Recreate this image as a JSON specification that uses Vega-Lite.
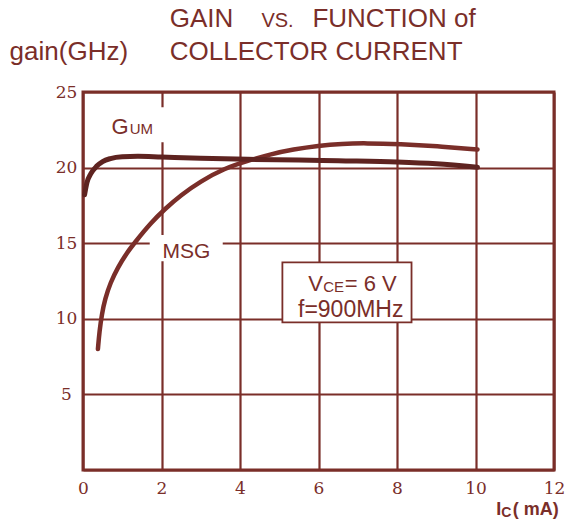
{
  "$schema": "https://vega.github.io/schema/vega-lite/v6.json",
  "width": 471,
  "height": 378,
  "autosize": {"type": "none"},
  "padding": {"left": 83, "top": 92, "right": 15, "bottom": 56},
  "background": "white",
  "config": {
    "view": {"stroke": "#7a2e29", "strokeWidth": 3},
    "axis": {
      "domain": false, "ticks": false, "gridColor": "#7a2e29", "gridWidth": 2.2, "gridOpacity": 1,
      "labelFont": "DejaVu Serif", "labelFontSize": 17, "labelColor": "#7a2e29", "title": null, "labelFlush": false
    },
    "text": {"font": "Liberation Sans", "color": "#7a2e29"}
  },
  "datasets": {
    "curves": [
      {"series": "MSG", "ic": 0.38, "gain": 8.0},
      {"series": "MSG", "ic": 0.42, "gain": 9.2},
      {"series": "MSG", "ic": 0.48, "gain": 10.3},
      {"series": "MSG", "ic": 0.56, "gain": 11.3},
      {"series": "MSG", "ic": 0.7, "gain": 12.4},
      {"series": "MSG", "ic": 0.89, "gain": 13.4},
      {"series": "MSG", "ic": 1.1, "gain": 14.3},
      {"series": "MSG", "ic": 1.32, "gain": 15.05},
      {"series": "MSG", "ic": 1.74, "gain": 16.37},
      {"series": "MSG", "ic": 2.08, "gain": 17.25},
      {"series": "MSG", "ic": 2.5, "gain": 18.2},
      {"series": "MSG", "ic": 3.0, "gain": 19.1},
      {"series": "MSG", "ic": 3.6, "gain": 19.95},
      {"series": "MSG", "ic": 4.2, "gain": 20.45},
      {"series": "MSG", "ic": 4.8, "gain": 20.9},
      {"series": "MSG", "ic": 5.35, "gain": 21.2},
      {"series": "MSG", "ic": 6.0, "gain": 21.45},
      {"series": "MSG", "ic": 6.6, "gain": 21.58},
      {"series": "MSG", "ic": 7.2, "gain": 21.62},
      {"series": "MSG", "ic": 8.1, "gain": 21.55},
      {"series": "MSG", "ic": 9.0, "gain": 21.42},
      {"series": "MSG", "ic": 10.05, "gain": 21.2},
      {"series": "GUM", "ic": 0.04, "gain": 18.2},
      {"series": "GUM", "ic": 0.1, "gain": 19.0},
      {"series": "GUM", "ic": 0.2, "gain": 19.6},
      {"series": "GUM", "ic": 0.35, "gain": 20.1},
      {"series": "GUM", "ic": 0.5, "gain": 20.4},
      {"series": "GUM", "ic": 0.7, "gain": 20.6},
      {"series": "GUM", "ic": 1.0, "gain": 20.72},
      {"series": "GUM", "ic": 1.4, "gain": 20.75},
      {"series": "GUM", "ic": 2.0, "gain": 20.7},
      {"series": "GUM", "ic": 3.0, "gain": 20.62},
      {"series": "GUM", "ic": 4.2, "gain": 20.55},
      {"series": "GUM", "ic": 5.5, "gain": 20.5},
      {"series": "GUM", "ic": 6.5, "gain": 20.45},
      {"series": "GUM", "ic": 8.0, "gain": 20.37},
      {"series": "GUM", "ic": 9.0, "gain": 20.25},
      {"series": "GUM", "ic": 10.05, "gain": 20.02}
    ]
  },
  "layer": [
    {
      "data": {"values": [
        {"x1": 0.25, "x2": 2.16, "y1": 21.68, "y2": 23.99},
        {"x1": 1.7, "x2": 3.56, "y1": 13.8, "y2": 15.55}
      ]},
      "mark": {"type": "rect", "fill": "white", "stroke": null},
      "encoding": {
        "x": {"field": "x1", "type": "quantitative", "scale": {"domain": [0, 12], "nice": false, "zero": false},
          "axis": {"values": [0, 2, 4, 6, 8, 10, 12], "grid": true, "labelPadding": 10}},
        "x2": {"field": "x2"},
        "y": {"field": "y1", "type": "quantitative", "scale": {"domain": [0, 25], "nice": false, "zero": false},
          "axis": {"values": [0, 2.5, 5, 7.5, 10, 12.5, 15, 17.5, 20, 22.5, 25], "grid": true,
            "labelExpr": "datum.value % 5 === 0 && datum.value > 0 ? datum.label : ''",
            "labelAlign": "center", "labelPadding": 17}},
        "y2": {"field": "y2"}
      }
    },
    {
      "data": {"values": [{"x1": 5.08, "x2": 8.37, "y1": 9.76, "y2": 13.73}]},
      "mark": {"type": "rect", "fill": "white", "stroke": "#7a2e29", "strokeWidth": 1.8},
      "encoding": {
        "x": {"field": "x1", "type": "quantitative"},
        "x2": {"field": "x2"},
        "y": {"field": "y1", "type": "quantitative"},
        "y2": {"field": "y2"}
      }
    },
    {
      "data": {"name": "curves"},
      "transform": [{"filter": "datum.series === 'MSG'"}],
      "mark": {"type": "line", "interpolate": "basis", "color": "#7a2e29", "strokeWidth": 4.5, "strokeCap": "round"},
      "encoding": {
        "x": {"field": "ic", "type": "quantitative"},
        "y": {"field": "gain", "type": "quantitative"}
      }
    },
    {
      "data": {"name": "curves"},
      "transform": [{"filter": "datum.series === 'GUM'"}],
      "mark": {"type": "line", "interpolate": "monotone", "color": "#5e2320", "strokeWidth": 5, "strokeCap": "round"},
      "encoding": {
        "x": {"field": "ic", "type": "quantitative"},
        "y": {"field": "gain", "type": "quantitative"}
      }
    },
    {
      "data": {"values": [{"x": 1.164, "y": 22.25, "t": "G"}]},
      "mark": {"type": "text", "fontSize": 22, "align": "right", "baseline": "alphabetic"},
      "encoding": {"x": {"field": "x", "type": "quantitative"}, "y": {"field": "y", "type": "quantitative"}, "text": {"field": "t"}}
    },
    {
      "data": {"values": [{"x": 1.19, "y": 22.25, "t": "UM"}]},
      "mark": {"type": "text", "fontSize": 15, "align": "left", "baseline": "alphabetic"},
      "encoding": {"x": {"field": "x", "type": "quantitative"}, "y": {"field": "y", "type": "quantitative"}, "text": {"field": "t"}}
    },
    {
      "data": {"values": [{"x": 2.634, "y": 13.99, "t": "MSG"}]},
      "mark": {"type": "text", "fontSize": 21, "align": "center", "baseline": "alphabetic"},
      "encoding": {"x": {"field": "x", "type": "quantitative"}, "y": {"field": "y", "type": "quantitative"}, "text": {"field": "t"}}
    },
    {
      "data": {"values": [{"x": 6.115, "y": 11.85, "t": "V"}]},
      "mark": {"type": "text", "fontSize": 22, "align": "right", "baseline": "alphabetic"},
      "encoding": {"x": {"field": "x", "type": "quantitative"}, "y": {"field": "y", "type": "quantitative"}, "text": {"field": "t"}}
    },
    {
      "data": {"values": [{"x": 6.12, "y": 11.75, "t": "CE"}]},
      "mark": {"type": "text", "fontSize": 15, "align": "left", "baseline": "alphabetic"},
      "encoding": {"x": {"field": "x", "type": "quantitative"}, "y": {"field": "y", "type": "quantitative"}, "text": {"field": "t"}}
    },
    {
      "data": {"values": [{"x": 6.667, "y": 11.85, "t": "= 6 V"}]},
      "mark": {"type": "text", "fontSize": 22, "align": "left", "baseline": "alphabetic"},
      "encoding": {"x": {"field": "x", "type": "quantitative"}, "y": {"field": "y", "type": "quantitative"}, "text": {"field": "t"}}
    },
    {
      "data": {"values": [{"x": 5.478, "y": 10.13, "t": "f=900MHz"}]},
      "mark": {"type": "text", "fontSize": 23, "align": "left", "baseline": "alphabetic"},
      "encoding": {"x": {"field": "x", "type": "quantitative"}, "y": {"field": "y", "type": "quantitative"}, "text": {"field": "t"}}
    },
    {
      "data": {"values": [{"x": 2.21, "y": 29.33, "t": "GAIN"}, {"x": 5.845, "y": 29.33, "t": "FUNCTION of"}, {"x": 2.21, "y": 27.12, "t": "COLLECTOR CURRENT"}, {"x": -1.87, "y": 27.12, "t": "gain(GHz)"}]},
      "mark": {"type": "text", "fontSize": 26, "align": "left", "baseline": "alphabetic"},
      "encoding": {"x": {"field": "x", "type": "quantitative"}, "y": {"field": "y", "type": "quantitative"}, "text": {"field": "t"}}
    },
    {
      "data": {"values": [{"x": 4.545, "y": 29.33, "t": "VS."}]},
      "mark": {"type": "text", "fontSize": 20, "align": "left", "baseline": "alphabetic"},
      "encoding": {"x": {"field": "x", "type": "quantitative"}, "y": {"field": "y", "type": "quantitative"}, "text": {"field": "t"}}
    },
    {
      "data": {"values": [{"x": 10.53, "y": -2.97, "t": "I"}]},
      "mark": {"type": "text", "fontSize": 18, "fontWeight": "bold", "align": "left", "baseline": "alphabetic"},
      "encoding": {"x": {"field": "x", "type": "quantitative"}, "y": {"field": "y", "type": "quantitative"}, "text": {"field": "t"}}
    },
    {
      "data": {"values": [{"x": 10.655, "y": -3.1, "t": "C"}]},
      "mark": {"type": "text", "fontSize": 14, "fontWeight": "bold", "align": "left", "baseline": "alphabetic"},
      "encoding": {"x": {"field": "x", "type": "quantitative"}, "y": {"field": "y", "type": "quantitative"}, "text": {"field": "t"}}
    },
    {
      "data": {"values": [{"x": 10.95, "y": -2.97, "t": "( mA)"}]},
      "mark": {"type": "text", "fontSize": 18, "fontWeight": "bold", "align": "left", "baseline": "alphabetic"},
      "encoding": {"x": {"field": "x", "type": "quantitative"}, "y": {"field": "y", "type": "quantitative"}, "text": {"field": "t"}}
    }
  ]
}
